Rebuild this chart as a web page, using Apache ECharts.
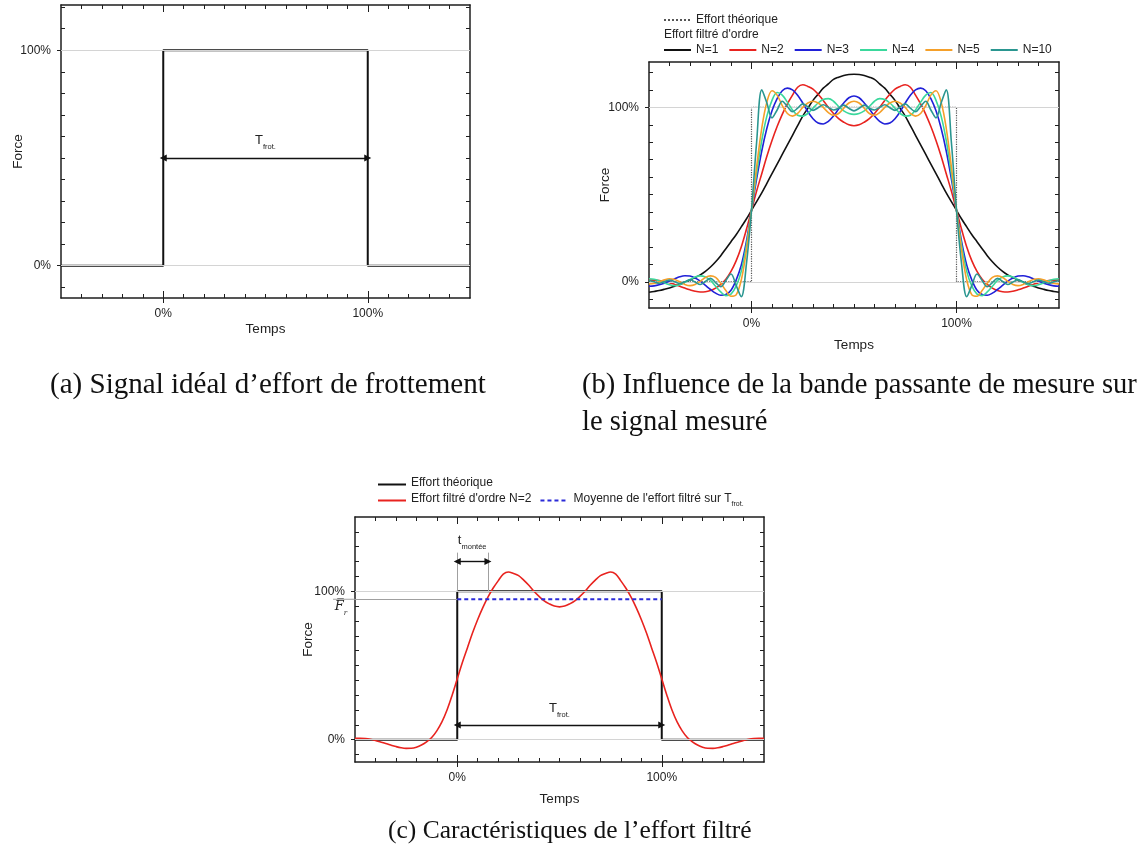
<!DOCTYPE html>
<html><head><meta charset="utf-8">
<script src="https://cdn.jsdelivr.net/npm/echarts@6/dist/echarts.min.js"></script>
<style>
html,body{margin:0;padding:0;background:#fff;width:1142px;height:857px;overflow:hidden}
.c{position:absolute}
</style></head><body>
<div id="ca" class="c" style="left:0;top:0;width:571px;height:440px"></div>
<div id="cb" class="c" style="left:571px;top:0;width:571px;height:440px"></div>
<div id="cc" class="c" style="left:0;top:440px;width:1142px;height:417px"></div>
<script>
// ===== DATA =====
const timePct = [-50,-47.5,-45,-42.5,-40,-37.5,-35,-32.5,-30,-27.5,-25,-22.5,-20,-17.5,-15,-12.5,-10,-7.5,-5,-2.5,0,2.5,5,7.5,10,12.5,15,17.5,20,22.5,25,27.5,30,32.5,35,37.5,40,42.5,45,47.5,50,52.5,55,57.5,60,62.5,65,67.5,70,72.5,75,77.5,80,82.5,85,87.5,90,92.5,95,97.5,100,102.5,105,107.5,110,112.5,115,117.5,120,122.5,125,127.5,130,132.5,135,137.5,140,142.5,145,147.5,150];
const forceN1 = [-6,-5.5,-5,-4.3,-3.5,-2.5,-1.5,-0.3,1,2.5,4,6,8.5,11.5,15,19,23,27,31.5,36,41,46,51,56.5,62,67.5,73,78.5,84,89.5,95,99.5,104,107.5,111,113.5,116,117.3,118.3,118.8,119,118.8,118.3,117.3,116,113.5,111,107.5,104,99.5,95,89.5,84,78.5,73,67.5,62,56.5,51,46,41,36,31.5,27,23,19,15,11.5,8.5,6,4,2.5,1,-0.3,-1.5,-2.5,-3.5,-4.3,-5,-5.5,-6];
const forceN2 = [1,1,0.8,0.3,-0.5,-1.5,-2.5,-3.6,-4.6,-5.4,-5.8,-5.7,-5,-3.6,-1.5,1.5,6,12,20,30,41,52,62,72,81,89,96,102,107,111.5,113,112,110.5,107.5,104,100,96.5,93.5,91.5,90,89.5,90,91.5,93.5,96.5,100,104,107.5,110.5,112,113,111.5,107,102,96,89,81,72,62,52,41,30,20,12,6,1.5,-1.5,-3.6,-5,-5.7,-5.8,-5.4,-4.6,-3.6,-2.5,-1.5,-0.5,0.3,0.8,1,1];
const forceN3 = [-2.5,-2.3,-1.7,-0.8,0.4,1.7,2.9,3.5,3.3,2.2,0.4,-2,-4.4,-6.5,-7.7,-7.3,-4.8,1,9.5,23,41,59,75,88,98,105,109.5,111,110,107,102.5,97.5,93.5,91,90.5,92,95,99,102.5,105.5,106.5,105.5,102.5,99,95,92,90.5,91,93.5,97.5,102.5,107,110,111,109.5,105,98,88,75,59,41,23,9.5,1,-4.8,-7.3,-7.7,-6.5,-4.4,-2,0.4,2.2,3.3,3.5,2.9,1.7,0.4,-0.8,-1.7,-2.3,-2.5];
const forceN4 = [1.8,1.5,0.6,-0.6,-1.7,-2.2,-1.7,-0.3,1.3,2.8,3.4,2.8,0.8,-2.5,-5.8,-7.9,-7,-2.5,6,21,41,62,81,95,104,108.5,107,103,98.5,95.5,95,96.5,99.5,102.5,104.5,105,103.5,100.5,98,96.5,96,96.5,98,100.5,103.5,105,104.5,102.5,99.5,96.5,95,95.5,98.5,103,107,108.5,104,95,81,62,41,21,6,-2.5,-7,-7.9,-5.8,-2.5,0.8,2.8,3.4,2.8,1.3,-0.3,-1.7,-2.2,-1.7,-0.6,0.6,1.5,1.8];
const forceN5 = [-1.2,-1,0,1.2,1.8,1.3,0,-1.5,-2.2,-1.5,0.3,2.5,3.4,2.5,-0.8,-5,-8.3,-7.5,1,18,41,66,88,103,109.5,107,101,96.5,95,96.5,100,102.5,103.5,102.5,100,97,95.5,96.5,99.5,102.5,103.5,102.5,99.5,96.5,95.5,97,100,102.5,103.5,102.5,100,96.5,95,96.5,101,107,109.5,103,88,66,41,18,1,-7.5,-8.3,-5,-0.8,2.5,3.4,2.5,0.3,-1.5,-2.2,-1.5,0,1.3,1.8,1.2,0,-1,-1.2];
const forceN10 = [0.8,0,-0.8,0.1,1,0,-1,0.1,1.2,-0.1,-1.5,0.2,2,-0.4,-2.8,0.8,4.5,-2,-8.5,10,41,80,110,102.5,94,98.5,103.5,100.5,97.5,99.5,102,100.2,98.3,99.8,101.5,100,98.5,99.5,101.3,99.5,98,99.5,101.3,99.5,98.5,100,101.5,99.8,98.3,100.2,102,99.5,97.5,100.5,103.5,98.5,94,102.5,110,80,41,10,-8.5,-2,4.5,0.8,-2.8,-0.4,2,0.2,-1.5,-0.1,1.2,0.1,-1,0,1,0.1,-0.8,0,0.8];
const theoTime = [-50,0,0,100,100,150];
const theoForce = [0,0,100,100,0,0];
const meanTime = [0,100];
const meanForce = [94.6,94.6];
const orderNames = ['N=1','N=2','N=3','N=4','N=5','N=10'];
const xLabelValues = [0,100];
const yLabelValues = [0,100];
const xMinorTicks = [-40,-30,-20,-10,0,10,20,30,40,50,60,70,80,90,100,110,120,130,140];
const yMinorTicksA = [-10,0,10,20,30,40,50,60,70,80,90,100,110,120];
const yMinorTicksB = [-10,0,10,20,30,40,50,60,70,80,90,100,110,120];
const yMinorTicksC = [-10,0,10,20,30,40,50,60,70,80,90,100,110,120,130,140];
// annotation values
const tFrotA = {from:0, to:100, level:50, label:[50,57]};
const tFrotC = {from:0, to:100, level:10, label:[50,19.5]};
const riseC = {from:0, to:15, base:100, top:126, arrow:120, label:[7.3,133]};

// ===== STYLE =====
const FONT = '"Liberation Sans", Arial, sans-serif';
const SERIF = '"Liberation Serif", "DejaVu Serif", serif';
const TXT = '#222';
const AXC = '#1e1e1e';
const COLORS = ['#111111','#e8231f','#2020d8','#3ad89c','#f5a02a','#2a9690'];

function pairs(xs, ys){ return xs.map((x,i)=>[x, ys[i]]); }

function axesX(nameGap){
  const base = {type:'value', min:-50, max:150, splitLine:{show:false}};
  const tl = {color:AXC, width:1};
  return [
    Object.assign({}, base, {position:'bottom', name:'Temps', nameLocation:'middle', nameGap:nameGap, nameMoveOverlap:false,
      nameTextStyle:{fontFamily:FONT, fontSize:13.5, color:TXT},
      axisLine:{show:true, onZero:false, lineStyle:{color:AXC, width:1.5}},
      axisTick:{show:true, inside:true, length:4, customValues:xMinorTicks, lineStyle:tl},
      axisLabel:{show:true, customValues:xLabelValues, formatter:v=>v+'%', margin:10, fontFamily:FONT, fontSize:12, color:TXT}}),
    Object.assign({}, base, {position:'bottom', axisLine:{show:false,onZero:false}, axisTick:{show:true,inside:false,length:5,customValues:xLabelValues,lineStyle:tl}, axisLabel:{show:false}}),
    Object.assign({}, base, {position:'bottom', axisLine:{show:false,onZero:false}, axisTick:{show:true,inside:true,length:7,customValues:xLabelValues,lineStyle:tl}, axisLabel:{show:false}}),
    Object.assign({}, base, {position:'top', axisLine:{show:true,onZero:false,lineStyle:{color:AXC,width:1.5}}, axisTick:{show:true,inside:true,length:4,customValues:xMinorTicks,lineStyle:tl}, axisLabel:{show:false}}),
    Object.assign({}, base, {position:'top', axisLine:{show:false,onZero:false}, axisTick:{show:true,inside:true,length:7,customValues:xLabelValues,lineStyle:tl}, axisLabel:{show:false}})
  ];
}
function axesY(min, max, minor, nameGap){
  const base = {type:'value', min:min, max:max, splitLine:{show:false}};
  const tl = {color:AXC, width:1};
  return [
    Object.assign({}, base, {position:'left', name:'Force', nameLocation:'middle', nameGap:nameGap, nameRotate:90, nameMoveOverlap:false,
      nameTextStyle:{fontFamily:FONT, fontSize:13.5, color:TXT},
      axisLine:{show:true, onZero:false, lineStyle:{color:AXC, width:1.5}},
      axisTick:{show:true, inside:true, length:4, customValues:minor, lineStyle:tl},
      axisLabel:{show:true, customValues:yLabelValues, formatter:v=>v+'%', margin:10, fontFamily:FONT, fontSize:12, color:TXT}}),
    Object.assign({}, base, {position:'left', axisLine:{show:false,onZero:false}, axisTick:{show:true,inside:false,length:4,customValues:yLabelValues,lineStyle:tl}, axisLabel:{show:false}}),
    Object.assign({}, base, {position:'right', axisLine:{show:true,onZero:false,lineStyle:{color:AXC,width:1.5}}, axisTick:{show:true,inside:true,length:4,customValues:minor,lineStyle:tl}, axisLabel:{show:false}})
  ];
}
function helper(o){ return Object.assign({type:'line', data:[], silent:true, symbol:'none', animation:false}, o); }
function gridLines(){
  return helper({z:1, markLine:{silent:true, symbol:'none', animation:false, label:{show:false},
    lineStyle:{color:'#d4d4d4', width:1, type:'solid'}, data:[{yAxis:0},{yAxis:100}]}});
}
function subRich(main, sub, font){
  return {t:{fontFamily:font||FONT, fontSize:main, color:TXT, verticalAlign:'bottom', padding:[0,0,4,0]},
          s:{fontFamily:font||FONT, fontSize:sub, color:TXT, verticalAlign:'bottom'}};
}
function spanArrow(a, mainSize){
  return helper({z:6,
    markLine:{silent:true, animation:false, symbol:['triangle','triangle'], symbolSize:7, label:{show:false},
      lineStyle:{color:'#111', width:1.4, type:'solid'},
      data:[[{coord:[a.from, a.level]},{coord:[a.to, a.level]}]]},
    markPoint:{silent:true, animation:false, symbol:'circle', symbolSize:0, itemStyle:{color:'rgba(0,0,0,0)'},
      label:{show:true, position:'inside', formatter:()=>'{t|T}{s|frot.}', rich:subRich(mainSize, 7.5)},
      data:[{coord:a.label}]}
  });
}
function fitSize(text, family, width){
  const ctx = document.createElement('canvas').getContext('2d');
  ctx.font = '100px ' + family;
  return 100 * width / ctx.measureText(text).width;
}
function caption(text, left, top, size){
  return {type:'text', left:left, top:top, silent:true, style:{text:text, fontFamily:SERIF, fontSize:size, fill:'#111'}};
}
const legendIconStyle = {itemStyle:{opacity:0}};

// ===== (a) =====
const capA = '(a) Signal idéal d\u2019effort de frottement';
const capB1 = '(b) Influence de la bande passante de mesure sur';
const capB2 = 'le signal mesuré';
const capC = '(c) Caractéristiques de l\u2019effort filtré';
const sizeA = fitSize(capA, SERIF, 436);
const sizeB = fitSize(capB1, SERIF, 555);
const sizeC = fitSize(capC, SERIF, 364);

const chartA = echarts.init(document.getElementById('ca'));
chartA.setOption({
  animation:false, backgroundColor:'#fff',
  grid:{left:61, top:5, width:409, height:293, outerBoundsMode:'none'},
  xAxis:axesX(24), yAxis:axesY(-15, 121, yMinorTicksA, 36),
  graphic:[caption(capA, 50, 371, sizeA)],
  series:[
    gridLines(),
    {type:'line', name:'Effort théorique', data:pairs(theoTime, theoForce), symbol:'none', z:3,
      lineStyle:{color:'#111', width:2}},
    spanArrow(tFrotA, 13)
  ]
});

// ===== (b) =====
const chartB = echarts.init(document.getElementById('cb'));
const orderData = [forceN1, forceN2, forceN3, forceN4, forceN5, forceN10];
const legendText = {fontFamily:FONT, fontSize:12, color:TXT};
chartB.setOption({
  animation:false, backgroundColor:'#fff',
  grid:{left:78, top:62, width:410, height:246, outerBoundsMode:'none'},
  xAxis:axesX(30), yAxis:axesY(-15, 126, yMinorTicksB, 37),
  legend:[
    Object.assign({data:['Effort théorique'], left:92, top:14, padding:0, itemWidth:27, itemHeight:10, itemGap:10, textStyle:legendText, selectedMode:false}, legendIconStyle),
    Object.assign({data:orderNames, left:92, top:44, padding:0, itemWidth:27, itemHeight:10, itemGap:10, textStyle:legendText, selectedMode:false}, legendIconStyle)
  ],
  graphic:[
    {type:'text', left:93, top:29, silent:true, style:{text:'Effort filtré d\'ordre', fontFamily:FONT, fontSize:12, fill:TXT}},
    caption(capB1, 11, 371, sizeB),
    caption(capB2, 11, 408, sizeB)
  ],
  series:[
    gridLines(),
    {type:'line', name:'Effort théorique', data:pairs(theoTime, theoForce), symbol:'none', z:2,
      lineStyle:{color:'#555', width:1.2, type:'dotted'}, itemStyle:{color:'#555'}}
  ].concat(orderNames.map((n,i)=>({
    type:'line', name:n, data:pairs(timePct, orderData[i]), symbol:'none', smooth:0.35, z:3+i,
    lineStyle:{color:COLORS[i], width:1.6}, itemStyle:{color:COLORS[i]}
  })))
});

// ===== (c) =====
const chartC = echarts.init(document.getElementById('cc'));
const nameTheoC = 'Effort théorique';
const nameFiltC = 'Effort filtré d\'ordre N=2';
const nameMeanC = 'Moyenne de l\'effort filtré sur T_frot.';
const legRich = {
  n:{fontFamily:FONT, fontSize:12, color:TXT, verticalAlign:'bottom', padding:[0,0,3,0]},
  s1:{fontFamily:FONT, fontSize:12, color:TXT, verticalAlign:'bottom', padding:[0,0,3,0]},
  s2:{fontFamily:FONT, fontSize:7, color:TXT, verticalAlign:'bottom'}
};
function legFmt(name){
  if (name.indexOf('T_frot.') >= 0) return '{n|' + name.replace(' T_frot.', ' ') + '}{s1|T}{s2|frot.}';
  return '{n|' + name + '}';
}
chartC.setOption({
  animation:false, backgroundColor:'#fff',
  grid:{left:355, top:77, width:409, height:245, outerBoundsMode:'none'},
  xAxis:axesX(30), yAxis:axesY(-15, 150, yMinorTicksC, 40),
  legend:[
    Object.assign({data:[nameTheoC], left:377, top:37, padding:0, itemWidth:28, itemHeight:10, itemGap:6, formatter:legFmt, textStyle:{fontFamily:FONT, fontSize:12, color:TXT, rich:legRich}, selectedMode:false}, legendIconStyle),
    Object.assign({data:[nameFiltC, nameMeanC], left:377, top:53, padding:0, itemWidth:28, itemHeight:10, itemGap:8, formatter:legFmt, textStyle:{fontFamily:FONT, fontSize:12, color:TXT, rich:legRich}, selectedMode:false}, legendIconStyle)
  ],
  graphic:[caption(capC, 388, 378, sizeC)],
  series:[
    gridLines(),
    helper({z:2, markLine:{silent:true, symbol:'none', animation:false, label:{show:false},
      lineStyle:{color:'#a0a0a0', width:1, type:'solid'},
      data:[
        [{coord:[riseC.from, riseC.base]},{coord:[riseC.from, riseC.top]}],
        [{coord:[riseC.to, riseC.base]},{coord:[riseC.to, riseC.top]}],
        [{coord:[-50, meanForce[0]]},{coord:[meanTime[0], meanForce[0]]}]
      ]},
      markPoint:{silent:true, animation:false,
        data:[
          {coord:[-50, meanForce[0]], symbol:'rect', symbolSize:[22,1], symbolOffset:[-11,0], itemStyle:{color:'#a0a0a0'}, label:{show:false}},
          {coord:[-50, meanForce[0]], symbol:'circle', symbolSize:0, itemStyle:{color:'rgba(0,0,0,0)'},
            label:{show:true, position:'inside', offset:[-14,9], formatter:()=>'{f|F\u0305}{r|r}',
              rich:{f:{fontFamily:'"DejaVu Serif", serif', fontStyle:'italic', fontSize:13, color:TXT, verticalAlign:'bottom', padding:[0,0,3,0]},
                    r:{fontFamily:'"DejaVu Serif", serif', fontStyle:'italic', fontSize:7, color:TXT, verticalAlign:'bottom'}}}}
        ]}
    }),
    {type:'line', name:nameTheoC, data:pairs(theoTime, theoForce), symbol:'none', z:3,
      lineStyle:{color:'#111', width:2}, itemStyle:{color:'#111'}},
    {type:'line', name:nameFiltC, data:pairs(timePct, forceN2), symbol:'none', smooth:0.35, z:4,
      lineStyle:{color:COLORS[1], width:1.6}, itemStyle:{color:COLORS[1]}},
    {type:'line', name:nameMeanC, data:pairs(meanTime, meanForce), symbol:'none', z:5,
      lineStyle:{color:'#2a2ad8', width:2, type:[4,3]}, itemStyle:{color:'#2a2ad8'}},
    helper({z:6,
      markLine:{silent:true, animation:false, symbol:['triangle','triangle'], symbolSize:7, label:{show:false},
        lineStyle:{color:'#111', width:1.4, type:'solid'},
        data:[[{coord:[riseC.from, riseC.arrow]},{coord:[riseC.to, riseC.arrow]}]]},
      markPoint:{silent:true, animation:false, symbol:'circle', symbolSize:0, itemStyle:{color:'rgba(0,0,0,0)'},
        label:{show:true, position:'inside', formatter:()=>'{t|t}{s|montée}', rich:subRich(13, 7.5)},
        data:[{coord:riseC.label}]}
    }),
    spanArrow(tFrotC, 13)
  ]
});
</script>
</body></html>
